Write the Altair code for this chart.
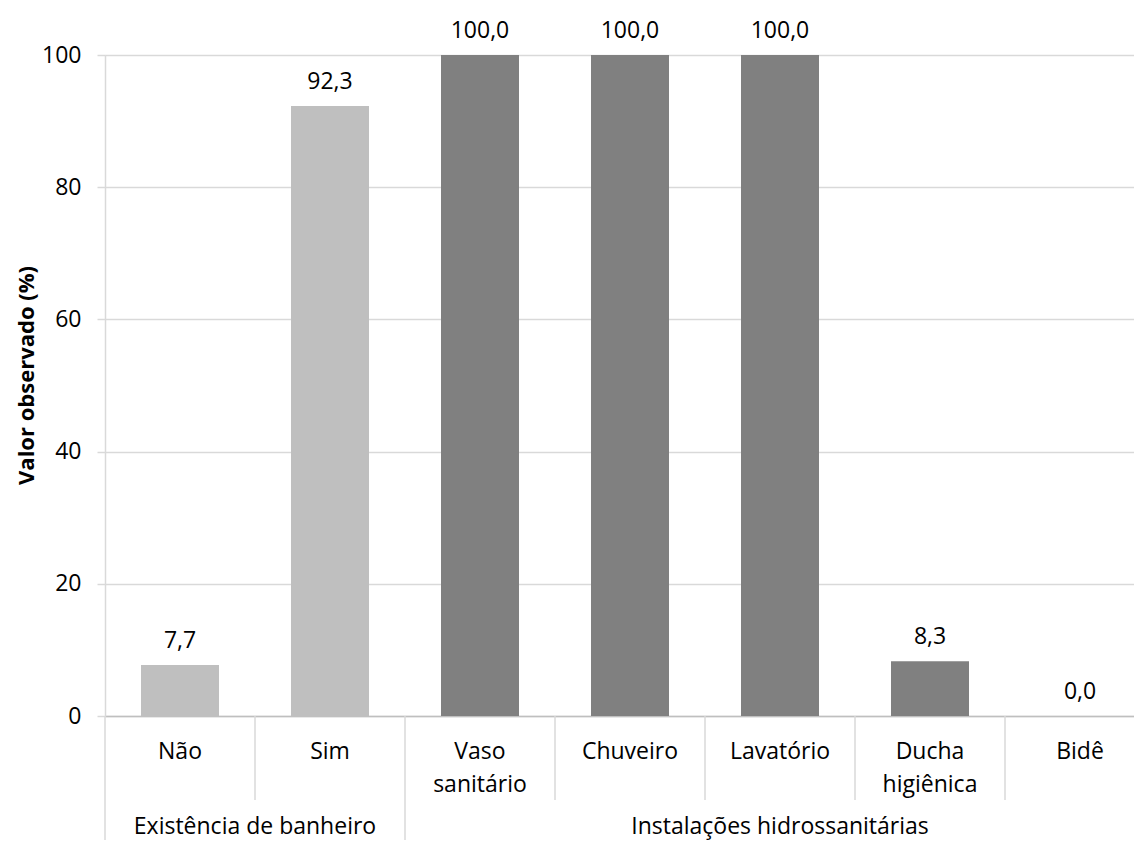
import altair as alt
import pandas as pd

categories = ["Não", "Sim", "Vaso sanitário", "Chuveiro", "Lavatório", "Ducha higiênica", "Bidê"]
groups = ["Existência de banheiro", "Existência de banheiro",
          "Instalações hidrossanitárias", "Instalações hidrossanitárias",
          "Instalações hidrossanitárias", "Instalações hidrossanitárias",
          "Instalações hidrossanitárias"]
values = [7.7, 92.3, 100.0, 100.0, 100.0, 8.3, 0.0]
group_names = ["Existência de banheiro", "Instalações hidrossanitárias"]
group_colors = ["#bfbfbf", "#808080"]
y_ticks = [0, 20, 40, 60, 80, 100]

FONT = "Open Sans"
FS = 23

df = pd.DataFrame({"cat": categories, "group": groups, "value": values})

n = len(categories)
bounds = []
for i in range(n + 1):
    is_long = i == 0 or i == n or groups[i] != groups[i - 1]
    bounds.append({"pos": i, "long": is_long})
bdf = pd.DataFrame(bounds)

grows = []
for g in group_names:
    idx = [i for i, gg in enumerate(groups) if gg == g]
    grows.append({"group": g, "mid": (min(idx) + max(idx) + 1) / 2})
gdf = pd.DataFrame(grows)

W, H = 1029, 661
XR = [0, 1050]

xband = alt.X("cat:N", sort=categories,
              scale=alt.Scale(paddingInner=0, paddingOuter=0, range=XR),
              axis=alt.Axis(title=None, labelExpr="split(datum.label, ' ')",
                            labelAngle=0, labelFont=FONT, labelFontSize=FS,
                            labelColor="#000000", labelPadding=24,
                            labelLineHeight=33, ticks=False,
                            domainColor="#bfbfbf", domainWidth=1.5))
yq = alt.Y("value:Q", scale=alt.Scale(domain=[0, 100]),
           axis=alt.Axis(values=y_ticks, title="Valor observado (%)",
                         titleFont=FONT, titleFontSize=22, titleFontWeight="bold",
                         titleColor="#000000", titlePadding=3, titleY=320,
                         labelFont=FONT, labelFontSize=FS, labelColor="#000000",
                         labelPadding=16, tickSize=8, tickColor="#d9d9d9",
                         tickWidth=1.5, domainColor="#d9d9d9", domainWidth=1.5,
                         gridColor="#d9d9d9", gridWidth=1.5))

bars = alt.Chart(df).mark_bar(width={"band": 0.52}).encode(
    x=xband,
    y=yq,
    color=alt.Color("group:N", scale=alt.Scale(domain=group_names, range=group_colors),
                    legend=None),
)

labels = alt.Chart(df).transform_calculate(
    lbl="replace(format(datum.value, '.1f'), '.', ',')"
).mark_text(font=FONT, fontSize=FS, color="#000000", baseline="alphabetic", dy=-17).encode(
    x=alt.X("cat:N", sort=categories), y=alt.Y("value:Q"), text="lbl:N"
)

xq = alt.X("pos:Q", scale=alt.Scale(domain=[0, n], range=XR), axis=None)

short_rules = alt.Chart(bdf).transform_filter("!datum.long").mark_rule(
    color="#d9d9d9", strokeWidth=1.5).encode(
    x=xq, y=alt.value(H), y2=alt.value(H + 84))
long_rules = alt.Chart(bdf).transform_filter("datum.long").mark_rule(
    color="#d9d9d9", strokeWidth=1.5).encode(
    x=xq, y=alt.value(H), y2=alt.value(H + 140))

group_text = alt.Chart(gdf).mark_text(font=FONT, fontSize=FS, color="#000000",
                                      baseline="alphabetic").encode(
    x=alt.X("mid:Q", scale=alt.Scale(domain=[0, n], range=XR), axis=None),
    y=alt.value(H + 118), text="group:N")

chart = alt.layer(
    alt.layer(bars, labels),
    alt.layer(short_rules, long_rules, group_text),
).resolve_scale(x="independent").properties(
    width=W, height=H,
    autosize=alt.AutoSizeParams(type="none"),
    padding={"left": 97, "top": 47, "right": 0, "bottom": 124},
).configure_view(stroke=None).configure(background="white")

chart.save("out.html", embed_options={"renderer": "svg", "actions": False})
